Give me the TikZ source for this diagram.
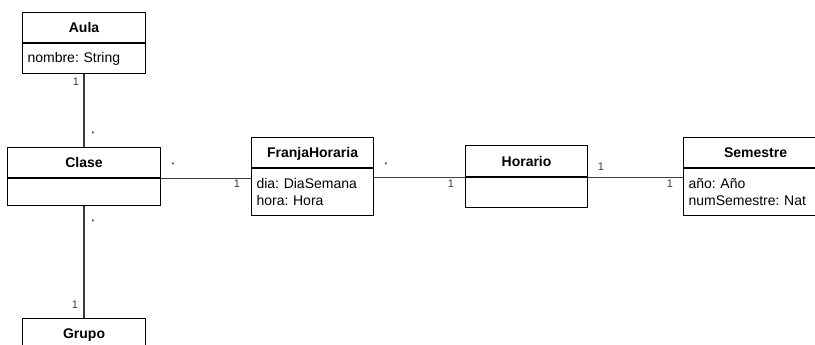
\documentclass[tikz,border=0pt]{standalone}
\usepackage{fontspec}
\setmainfont{Liberation Sans}
\usetikzlibrary{positioning}
\definecolor{lnGray}{HTML}{3A3A3A}
\frenchspacing

\begin{document}
\begin{tikzpicture}[x=1pt, y=-1pt,
  cls/.style={draw, line width=1.1pt, font=\fontsize{14}{17}\selectfont\bfseries, inner sep=0pt, text height=10pt, text depth=0pt, anchor=north west},
  atr/.style={draw, line width=1.1pt, font=\fontsize{14}{17}\selectfont, inner xsep=5pt, inner ysep=0pt, align=left, anchor=north west},
  assoc/.style={lnGray, line width=1.2pt},
  mult/.style={font=\fontsize{11}{13}\selectfont, text=lnGray, inner sep=0pt, anchor=base},
  many/.style={mult, font=\fontsize{17}{17}\selectfont}]
\useasboundingbox (0,0) rectangle (815,345);
\clip (0,0) rectangle (815,345);
% classes
\node[cls, minimum width=123pt, minimum height=30pt] (aulaHd) at (22,12) {Aula};
\node[atr, text width=113pt, minimum height=30pt] (aulaAtr) at (aulaHd.south west) {nombre: String};
\node[cls, minimum width=153pt, minimum height=30pt] (claseHd) at (7,147) {Clase};
\node[atr, minimum width=153pt, minimum height=27pt] (claseAtr) at (claseHd.south west) {};
\node[cls, minimum width=123pt, minimum height=30pt] (grupoHd) at (22,318) {Grupo};
\node[cls, minimum width=122pt, minimum height=30pt] (franjaHd) at (251,137) {FranjaHoraria};
\node[atr, text width=112pt, minimum height=47pt] (franjaAtr) at (franjaHd.south west) {dia: DiaSemana\\hora: Hora};
\node[cls, minimum width=122pt, minimum height=31pt] (horarioHd) at (465,145) {Horario};
\node[atr, minimum width=122pt, minimum height=30pt] (horarioAtr) at (horarioHd.south west) {};
\node[cls, minimum width=144pt, minimum height=30pt] (semestreHd) at (683,137) {Semestre};
\node[atr, text width=134pt, minimum height=47pt] (semestreAtr) at (semestreHd.south west) {año: Año\\numSemestre: Nat};
% associations
\draw[assoc] (aulaAtr.south) -- (claseHd.north);
\draw[assoc] (claseAtr.south) -- (grupoHd.north);
\draw[assoc] (claseHd.south east) -- (claseHd.south east -| franjaAtr.west);
\draw[assoc] (franjaAtr.east |- horarioHd.south) -- (horarioHd.south west);
\draw[assoc] (horarioHd.south east) -- (horarioHd.south east -| semestreAtr.west);
% multiplicities
\node[mult] (mAula) at (76,86) {1};
\node[many] (mClaseA) at (93,137) {·};
\node[many] (mClaseG) at (93,225) {·};
\node[mult] (mGrupo) at (75,308) {1};
\node[many] (mClaseF) at (173,168) {·};
\node[mult] (mFranjaC) at (237,187) {1};
\node[many] (mFranjaH) at (386,168) {·};
\node[mult] (mHorarioF) at (451,187) {1};
\node[mult] (mHorarioS) at (601,170) {1};
\node[mult] (mSemestre) at (670,187) {1};
\end{tikzpicture}
\end{document}
